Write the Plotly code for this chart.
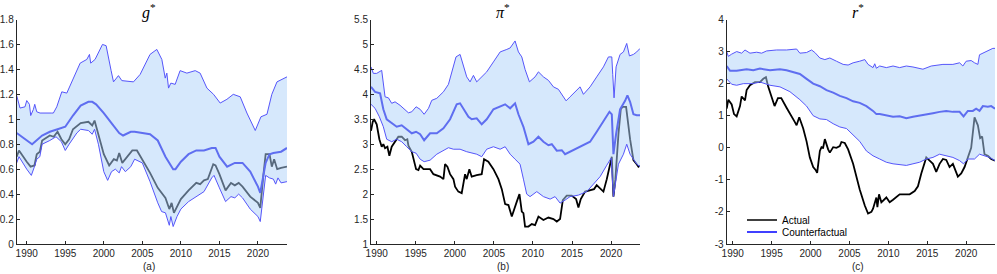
import plotly.graph_objects as go

# ---------------- data (year, value) ----------------
G_UPPER = [(1988.7, 1.19), (1989.13, 1.09), (1989.78, 1.10), (1990.0, 1.15), (1990.35, 1.12), (1990.52, 1.03),
           (1990.87, 1.08), (1991.04, 1.12), (1991.3, 1.06), (1991.73, 1.05), (1993.25, 1.05), (1993.46, 1.05),
           (1993.9, 1.10), (1994.55, 1.22), (1995.2, 1.21), (1995.84, 1.30), (1996.93, 1.45), (1997.8, 1.48),
           (1998.14, 1.52), (1998.3, 1.45), (1998.87, 1.48), (1999.83, 1.60), (2000.3, 1.59), (2000.95, 1.39),
           (2001.26, 1.30), (2001.9, 1.35), (2002.34, 1.31), (2003.85, 1.30), (2004.72, 1.36), (2006.0, 1.52),
           (2006.88, 1.56), (2007.53, 1.48), (2007.97, 1.33), (2008.18, 1.37), (2008.4, 1.25), (2008.7, 1.29),
           (2009.26, 1.28), (2009.9, 1.39), (2010.78, 1.37), (2011.86, 1.39), (2012.5, 1.37), (2013.38, 1.25),
           (2014.24, 1.20), (2015.1, 1.13), (2015.97, 1.16), (2016.8, 1.20), (2017.7, 1.18), (2018.57, 1.05),
           (2019.65, 0.91), (2020.39, 1.02), (2021.17, 1.04), (2021.8, 1.20), (2022.47, 1.30), (2023.77, 1.34)]
G_MEDIAN = [(1988.7, 0.89), (1990.0, 0.83), (1990.7, 0.80), (1992.0, 0.87), (1993.0, 0.90), (1994.0, 0.92),
            (1995.0, 0.94), (1996.0, 1.03), (1997.0, 1.11), (1998.0, 1.14), (1998.5, 1.14), (1999.0, 1.12),
            (2000.0, 1.05), (2001.0, 0.97), (2002.0, 0.89), (2002.5, 0.87), (2003.5, 0.90), (2004.0, 0.90),
            (2005.0, 0.89), (2006.0, 0.88), (2007.0, 0.83), (2008.0, 0.70), (2009.0, 0.60), (2009.3, 0.60),
            (2010.0, 0.66), (2011.0, 0.72), (2012.0, 0.75), (2013.0, 0.75), (2014.0, 0.77), (2014.5, 0.77),
            (2015.0, 0.70), (2016.0, 0.62), (2017.0, 0.65), (2018.0, 0.65), (2019.0, 0.58), (2020.0, 0.46),
            (2020.3, 0.41), (2021.0, 0.65), (2021.5, 0.72), (2022.0, 0.73), (2023.0, 0.74), (2023.77, 0.77)]
G_LOWER = [(1988.7, 0.65), (1989.0, 0.70), (1990.0, 0.60), (1990.6, 0.55), (1991.0, 0.62), (1991.3, 0.68),
           (1991.7, 0.70), (1992.0, 0.80), (1993.0, 0.83), (1993.8, 0.86), (1994.5, 0.82), (1995.0, 0.75),
           (1995.5, 0.80), (1996.5, 0.89), (1997.0, 0.92), (1998.0, 0.91), (1998.5, 0.88), (1998.8, 0.92),
           (1999.3, 0.80), (2000.0, 0.58), (2000.5, 0.51), (2001.0, 0.58), (2001.5, 0.60), (2002.0, 0.57),
           (2002.3, 0.62), (2002.8, 0.58), (2003.5, 0.62), (2004.0, 0.68), (2005.0, 0.65), (2006.0, 0.50),
           (2007.0, 0.33), (2007.5, 0.26), (2008.0, 0.25), (2008.5, 0.15), (2008.7, 0.22), (2009.0, 0.14),
           (2009.5, 0.22), (2010.0, 0.28), (2011.0, 0.34), (2012.0, 0.38), (2013.0, 0.42), (2014.0, 0.53),
           (2014.3, 0.55), (2015.0, 0.45), (2015.8, 0.34), (2016.5, 0.38), (2017.0, 0.37), (2017.5, 0.40),
           (2018.0, 0.37), (2019.0, 0.28), (2020.0, 0.22), (2020.3, 0.18), (2020.7, 0.40), (2021.0, 0.55),
           (2021.5, 0.53), (2022.0, 0.52), (2022.3, 0.48), (2022.6, 0.53), (2023.0, 0.49), (2023.77, 0.50)]
G_ACTUAL = [(1988.7, 0.70), (1989.0, 0.75), (1990.0, 0.66), (1990.5, 0.62), (1991.0, 0.63), (1991.3, 0.72),
            (1991.7, 0.74), (1992.0, 0.83), (1993.0, 0.87), (1993.5, 0.86), (1994.0, 0.90), (1994.5, 0.84),
            (1995.0, 0.80), (1995.5, 0.84), (1996.0, 0.92), (1997.0, 0.97), (1998.0, 0.98), (1998.5, 0.95),
            (1998.8, 0.99), (1999.3, 0.88), (2000.0, 0.72), (2000.7, 0.63), (2001.3, 0.68), (2001.7, 0.67),
            (2002.0, 0.73), (2002.4, 0.65), (2003.0, 0.70), (2003.7, 0.75), (2004.3, 0.75), (2005.0, 0.68),
            (2006.0, 0.57), (2007.0, 0.45), (2008.0, 0.37), (2008.5, 0.28), (2008.8, 0.33), (2009.1, 0.25),
            (2009.5, 0.30), (2010.0, 0.36), (2011.0, 0.43), (2012.0, 0.49), (2012.5, 0.48), (2013.0, 0.51),
            (2013.5, 0.52), (2014.2, 0.64), (2014.5, 0.63), (2015.0, 0.56), (2015.8, 0.43), (2016.5, 0.49),
            (2017.0, 0.47), (2017.5, 0.49), (2018.0, 0.46), (2019.0, 0.38), (2020.0, 0.33), (2020.3, 0.29),
            (2020.7, 0.55), (2021.0, 0.72), (2021.5, 0.72), (2021.8, 0.62), (2022.1, 0.68), (2022.5, 0.60),
            (2023.0, 0.61), (2023.77, 0.62)]

P_UPPER = [(1989.27, 4.55), (1989.57, 4.42), (1990.0, 4.42), (1990.43, 4.47), (1990.64, 4.48), (1991.07, 3.95),
           (1991.5, 3.93), (1991.92, 3.82), (1992.35, 3.85), (1992.99, 3.78), (1993.63, 3.70), (1994.06, 3.63),
           (1994.49, 3.65), (1995.04, 3.75), (1995.56, 3.70), (1996.07, 3.60), (1996.63, 3.72), (1997.05, 3.88),
           (1997.69, 3.92), (1998.54, 4.05), (1999.18, 4.20), (1999.6, 4.45), (2000.15, 4.75), (2000.67, 4.80),
           (2001.1, 4.55), (2001.52, 4.35), (2001.95, 4.25), (2002.38, 4.38), (2002.8, 4.25), (2003.44, 4.35),
           (2004.08, 4.45), (2004.94, 4.65), (2005.8, 4.85), (2006.65, 4.90), (2007.08, 4.93), (2007.71, 5.07),
           (2008.14, 4.85), (2008.57, 4.75), (2008.99, 4.50), (2009.55, 4.25), (2010.27, 4.35), (2010.7, 4.45),
           (2011.34, 4.35), (2011.98, 4.28), (2012.62, 4.15), (2013.26, 4.10), (2013.9, 3.95), (2014.24, 3.87),
           (2014.75, 3.95), (2015.39, 4.05), (2016.03, 4.15), (2016.46, 4.00), (2017.31, 4.15), (2018.16, 4.35),
           (2019.02, 4.55), (2019.66, 4.75), (2020.09, 4.75), (2020.21, 4.40), (2020.38, 3.93), (2020.64, 4.55),
           (2021.15, 4.80), (2021.58, 4.85), (2022.0, 5.02), (2022.35, 4.77), (2022.86, 4.80), (2023.28, 4.85),
           (2023.7, 4.92)]
P_MEDIAN = [(1989.27, 4.15), (1989.79, 4.05), (1990.43, 4.02), (1990.85, 3.70), (1991.28, 3.50), (1991.92, 3.42),
            (1992.56, 3.35), (1993.2, 3.38), (1993.84, 3.30), (1994.49, 3.22), (1995.04, 3.25), (1995.56, 3.20),
            (1996.07, 3.08), (1996.83, 3.22), (1997.69, 3.22), (1998.54, 3.32), (1999.39, 3.50), (1999.82, 3.65),
            (2000.24, 3.80), (2000.67, 3.82), (2001.1, 3.70), (2001.74, 3.55), (2002.16, 3.50), (2002.8, 3.52),
            (2003.44, 3.40), (2004.08, 3.50), (2004.94, 3.70), (2005.8, 3.75), (2006.44, 3.80), (2007.08, 3.72),
            (2007.71, 3.82), (2008.14, 3.60), (2008.78, 3.35), (2009.42, 3.00), (2010.06, 3.05), (2010.7, 3.15),
            (2011.34, 3.05), (2011.98, 2.98), (2012.41, 3.00), (2013.05, 2.87), (2013.69, 2.88), (2014.11, 2.80),
            (2014.75, 2.85), (2015.61, 2.92), (2016.46, 3.00), (2017.31, 3.05), (2018.16, 3.25), (2019.02, 3.45),
            (2019.79, 3.65), (2020.09, 3.60), (2020.3, 2.80), (2020.64, 3.20), (2021.15, 3.70), (2021.79, 3.87),
            (2022.09, 3.98), (2022.43, 3.85), (2022.86, 3.60), (2023.28, 3.58), (2023.7, 3.58)]
P_LOWER = [(1989.27, 3.80), (1989.79, 3.72), (1990.34, 3.55), (1990.85, 3.35), (1991.28, 3.10), (1991.92, 3.05),
           (1992.56, 3.10), (1993.2, 3.05), (1993.84, 2.95), (1994.49, 2.85), (1995.04, 2.82), (1995.56, 2.70),
           (1996.07, 2.65), (1996.83, 2.68), (1997.69, 2.80), (1998.54, 2.88), (1999.18, 2.93), (1999.82, 2.90),
           (2000.67, 2.90), (2001.52, 2.85), (2002.8, 2.80), (2003.44, 2.75), (2004.08, 2.90), (2004.94, 2.95),
           (2005.8, 2.90), (2006.44, 2.95), (2007.08, 2.80), (2007.71, 2.70), (2008.35, 2.60), (2008.78, 2.30),
           (2009.2, 2.00), (2009.63, 1.95), (2010.49, 2.05), (2011.34, 1.95), (2012.2, 1.90), (2012.83, 1.95),
           (2013.47, 1.82), (2014.11, 1.88), (2014.75, 1.95), (2015.82, 1.98), (2016.89, 2.05), (2017.74, 2.20),
           (2018.59, 2.35), (2019.45, 2.58), (2020.0, 2.72), (2020.3, 1.95), (2020.51, 2.20), (2020.94, 2.60),
           (2021.58, 2.80), (2022.0, 3.00), (2022.43, 2.80), (2022.86, 2.70), (2023.28, 2.60), (2023.7, 2.55)]
P_ACTUAL = [(1989.27, 3.27), (1989.49, 3.45), (1989.66, 3.50), (1990.0, 3.40), (1990.34, 3.10), (1990.64, 2.95),
            (1990.85, 3.00), (1991.07, 2.92), (1991.37, 2.95), (1991.62, 2.77), (1991.92, 2.95), (1992.35, 3.05),
            (1992.77, 3.15), (1993.2, 3.15), (1993.63, 3.08), (1993.92, 3.10), (1994.06, 2.97), (1994.49, 2.85),
            (1994.7, 2.70), (1995.04, 2.50), (1995.34, 2.48), (1995.56, 2.57), (1995.99, 2.50), (1996.83, 2.50),
            (1997.26, 2.40), (1998.11, 2.35), (1998.54, 2.30), (1998.75, 2.60), (1999.05, 2.55), (1999.39, 2.40),
            (1999.82, 2.30), (2000.03, 2.15), (2000.45, 2.05), (2000.88, 2.02), (2001.31, 2.40), (2001.52, 2.30),
            (2001.86, 2.50), (2002.16, 2.35), (2002.8, 2.38), (2003.44, 2.40), (2003.74, 2.70), (2004.29, 2.65),
            (2004.94, 2.50), (2005.58, 2.30), (2006.01, 2.10), (2006.44, 1.80), (2006.86, 1.78), (2007.29, 1.55),
            (2007.93, 1.85), (2008.27, 2.00), (2008.57, 1.65), (2008.78, 1.62), (2008.99, 1.35), (2009.42, 1.35),
            (2009.85, 1.40), (2010.27, 1.38), (2010.7, 1.55), (2011.34, 1.48), (2011.98, 1.53), (2012.62, 1.50),
            (2013.05, 1.45), (2013.47, 1.50), (2013.82, 1.88), (2014.32, 1.97), (2014.96, 1.97), (2015.52, 1.90),
            (2015.82, 1.73), (2016.12, 1.90), (2016.67, 2.05), (2017.31, 2.07), (2017.82, 2.10), (2018.16, 2.18),
            (2018.59, 2.12), (2019.02, 2.05), (2019.45, 2.30), (2019.87, 2.60), (2020.09, 2.75), (2020.3, 1.95),
            (2020.55, 2.30), (2020.94, 3.20), (2021.24, 3.70), (2021.49, 3.75), (2021.92, 3.75), (2022.43, 3.10),
            (2022.86, 2.68), (2023.28, 2.60), (2023.5, 2.55), (2023.7, 2.57)]

R_UPPER = [(1989.23, 3.00), (1989.44, 2.85), (1989.87, 2.92), (1990.51, 3.00), (1991.15, 2.95), (1991.58, 3.05),
           (1992.22, 2.95), (1993.08, 2.98), (1993.72, 2.95), (1994.36, 3.02), (1995.64, 3.05), (1996.92, 3.05),
           (1998.21, 3.08), (1998.63, 2.95), (1999.49, 2.97), (2000.13, 3.05), (2000.56, 2.97), (2001.2, 2.80),
           (2001.84, 2.75), (2002.48, 2.80), (2003.33, 2.70), (2004.19, 2.60), (2004.83, 2.58), (2005.47, 2.65),
           (2006.32, 2.70), (2006.97, 2.75), (2007.39, 2.60), (2008.03, 2.50), (2008.25, 2.62), (2008.46, 2.48),
           (2008.89, 2.55), (2009.74, 2.50), (2010.6, 2.55), (2011.45, 2.50), (2012.31, 2.55), (2013.16, 2.52),
           (2014.44, 2.45), (2015.51, 2.55), (2017.01, 2.60), (2018.29, 2.60), (2019.15, 2.65), (2019.57, 2.55),
           (2020.0, 2.70), (2020.64, 2.72), (2021.07, 2.65), (2021.5, 2.60), (2021.71, 2.90), (2022.56, 3.00),
           (2023.42, 3.10), (2023.7, 3.10)]
R_MEDIAN = [(1989.23, 2.55), (1989.66, 2.40), (1990.51, 2.40), (1991.79, 2.45), (1992.65, 2.42), (1993.5, 2.47),
            (1994.79, 2.42), (1996.07, 2.45), (1996.92, 2.42), (1997.78, 2.35), (1998.63, 2.30), (1999.49, 2.15),
            (2000.34, 2.00), (2001.2, 1.92), (2002.05, 1.80), (2002.91, 1.72), (2003.76, 1.62), (2004.62, 1.55),
            (2005.47, 1.45), (2006.32, 1.40), (2007.18, 1.30), (2008.03, 1.15), (2008.46, 1.05), (2008.89, 1.05),
            (2009.74, 1.00), (2010.6, 0.97), (2011.45, 0.98), (2012.31, 0.92), (2013.16, 0.97), (2014.02, 1.00),
            (2014.87, 1.05), (2015.73, 1.08), (2016.58, 1.12), (2017.44, 1.15), (2018.29, 1.12), (2019.15, 1.12),
            (2019.66, 0.98), (2020.21, 1.15), (2020.85, 1.15), (2021.28, 1.22), (2021.71, 1.15), (2022.14, 1.30),
            (2022.78, 1.28), (2023.21, 1.30), (2023.7, 1.22)]
R_LOWER = [(1989.23, 2.15), (1989.87, 1.98), (1990.51, 1.95), (1991.37, 2.00), (1992.65, 2.00), (1993.5, 2.05),
           (1994.79, 1.95), (1996.07, 1.90), (1997.35, 1.75), (1998.63, 1.50), (1999.49, 1.30), (2000.34, 1.00),
           (2001.2, 0.90), (2002.05, 0.88), (2002.91, 0.75), (2003.76, 0.65), (2004.62, 0.60), (2005.47, 0.40),
           (2006.32, 0.20), (2007.18, -0.10), (2008.03, -0.25), (2008.89, -0.35), (2009.74, -0.45), (2010.6, -0.50),
           (2011.45, -0.52), (2012.31, -0.55), (2013.16, -0.50), (2014.02, -0.45), (2014.87, -0.35), (2015.73, -0.30),
           (2016.58, -0.20), (2017.44, -0.25), (2018.29, -0.30), (2019.15, -0.40), (2019.66, -0.50), (2020.21, -0.35),
           (2021.07, -0.35), (2021.71, -0.20), (2022.35, -0.25), (2022.99, -0.30), (2023.7, -0.40)]
R_ACTUAL = [(1989.23, 1.22), (1989.44, 1.50), (1989.87, 1.35), (1990.17, 1.05), (1990.51, 0.98), (1990.94, 1.30),
            (1991.15, 1.60), (1991.58, 1.48), (1991.79, 1.80), (1992.22, 1.95), (1992.86, 2.05), (1993.5, 2.05),
            (1993.93, 2.15), (1994.27, 2.20), (1994.57, 1.90), (1994.96, 1.60), (1995.38, 1.30), (1995.81, 1.55),
            (1996.24, 1.55), (1996.92, 1.25), (1997.56, 1.00), (1997.99, 0.80), (1998.21, 0.70), (1998.55, 0.95),
            (1999.06, 0.60), (1999.49, 0.20), (1999.91, -0.30), (2000.34, -0.60), (2000.68, -0.70), (2000.85, -0.78),
            (2001.2, -0.10), (2001.41, 0.02), (2001.62, 0.00), (2001.84, 0.27), (2002.26, -0.05), (2002.48, -0.15),
            (2002.91, 0.02), (2003.33, 0.00), (2003.76, 0.05), (2003.97, 0.18), (2004.4, 0.15), (2004.83, -0.05),
            (2005.47, -0.50), (2006.32, -1.30), (2006.97, -1.80), (2007.39, -2.05), (2007.82, -2.00), (2008.03, -1.90),
            (2008.46, -1.55), (2008.59, -1.85), (2008.8, -1.45), (2009.1, -1.70), (2009.74, -1.55), (2010.17, -1.70),
            (2010.6, -1.62), (2011.45, -1.45), (2012.09, -1.45), (2012.74, -1.45), (2013.38, -1.35), (2013.8, -1.20),
            (2014.23, -0.80), (2014.87, -0.30), (2015.3, -0.40), (2015.73, -0.50), (2016.15, -0.75), (2016.58, -0.50),
            (2017.01, -0.35), (2017.44, -0.38), (2017.86, -0.60), (2018.29, -0.50), (2018.93, -0.90), (2019.36, -0.80),
            (2019.79, -0.60), (2020.21, -0.30), (2020.64, 0.00), (2021.07, 0.95), (2021.5, 0.70), (2021.79, 0.30),
            (2022.05, 0.35), (2022.35, -0.20), (2022.78, -0.25), (2023.21, -0.35), (2023.7, -0.40)]

X_TICKS = [1990, 1995, 2000, 2005, 2010, 2015, 2020]
G_TICKS = [0, 0.2, 0.4, 0.6, 0.8, 1, 1.2, 1.4, 1.6, 1.8]
P_TICKS = [1, 1.5, 2, 2.5, 3, 3.5, 4, 4.5, 5, 5.5]
R_TICKS = [-3, -2, -1, 0, 1, 2, 3, 4]

TITLES = ["<i>g</i><sup>*</sup>", "<i>π</i><sup>*</sup>", "<i>r</i><sup>*</sup>"]
CAPTIONS = ["(a)", "(b)", "(c)"]
LEGEND_LABELS = ["Actual", "Counterfactual"]

# ---------------- styling ----------------
W, H = 997, 274
FILL = "rgba(173,209,249,0.5)"
BOUND = "rgb(85,85,250)"
MED = "rgb(95,110,240)"
AXC = "#262626"
FONT = "Liberation Sans, Arial, sans-serif"
FS = 10

panels = [
    dict(up=G_UPPER, med=G_MEDIAN, lo=G_LOWER, act=G_ACTUAL, xr=[1988.7, 2023.77], yr=[0, 1.8], yt=G_TICKS,
         px=(16.7, 287)),
    dict(up=P_UPPER, med=P_MEDIAN, lo=P_LOWER, act=P_ACTUAL, xr=[1989.27, 2023.7], yr=[1, 5.5], yt=P_TICKS,
         px=(371, 640)),
    dict(up=R_UPPER, med=R_MEDIAN, lo=R_LOWER, act=R_ACTUAL, xr=[1989.23, 2023.7], yr=[-3, 4], yt=R_TICKS,
         px=(726.7, 995)),
]

Y_TOP, Y_BOT = 19.5, 244.0
ydom = [1 - Y_BOT / H, 1 - Y_TOP / H]


def xs(s):
    return [p[0] for p in s]


def ys(s):
    return [p[1] for p in s]


fig = go.Figure()
layout = dict(width=W, height=H, autosize=False, margin=dict(l=0, r=0, t=0, b=0, autoexpand=False),
              paper_bgcolor="white", plot_bgcolor="white", showlegend=True, hovermode=False,
              font=dict(family=FONT, size=FS, color=AXC))
annotations = []

for i, p in enumerate(panels):
    sfx = "" if i == 0 else str(i + 1)
    xa, ya = "x" + sfx, "y" + sfx
    # actual (under the band)
    fig.add_trace(go.Scatter(x=xs(p["act"]), y=ys(p["act"]), xaxis=xa, yaxis=ya, mode="lines",
                             line=dict(color="black", width=1.8), showlegend=False, hoverinfo="skip"))
    # band
    bx = xs(p["up"]) + xs(p["lo"])[::-1]
    by = ys(p["up"]) + ys(p["lo"])[::-1]
    fig.add_trace(go.Scatter(x=bx, y=by, xaxis=xa, yaxis=ya, mode="lines", fill="toself",
                             fillcolor=FILL, line=dict(width=0), showlegend=False, hoverinfo="skip"))
    for key, col, wd in (("up", BOUND, 1.0), ("lo", BOUND, 1.0), ("med", MED, 2.0)):
        fig.add_trace(go.Scatter(x=xs(p[key]), y=ys(p[key]), xaxis=xa, yaxis=ya, mode="lines",
                                 line=dict(color=col, width=wd), showlegend=False, hoverinfo="skip"))
    x0, x1 = p["px"]
    common = dict(showgrid=False, zeroline=False, showline=True, linecolor=AXC, linewidth=1,
                  ticks="inside", ticklen=3, tickcolor=AXC, tickwidth=1, automargin=False, fixedrange=True,
                  tickfont=dict(family=FONT, size=FS, color=AXC))
    layout["xaxis" + sfx] = dict(domain=[x0 / W, x1 / W], range=p["xr"], anchor=ya, tickvals=X_TICKS,
                                 ticktext=[str(t) for t in X_TICKS], **common)
    layout["yaxis" + sfx] = dict(domain=ydom, range=p["yr"], anchor=xa, tickvals=p["yt"],
                                 ticktext=[f"{t:g}" for t in p["yt"]], **common)
    cx = (x0 + x1) / 2 / W
    annotations.append(dict(text=TITLES[i], x=cx - 3 / W, y=1 - 11 / H, xref="paper", yref="paper",
                            showarrow=False, xanchor="center", yanchor="middle",
                            font=dict(family="Liberation Serif, Times New Roman, serif", size=16, color="black")))
    annotations.append(dict(text=CAPTIONS[i], x=cx - 3 / W, y=1 - 266 / H, xref="paper", yref="paper",
                            showarrow=False, xanchor="center", yanchor="middle",
                            font=dict(family=FONT, size=FS, color=AXC)))

# legend entries (panel c)
fig.add_trace(go.Scatter(x=[None], y=[None], xaxis="x3", yaxis="y3", mode="lines", name=LEGEND_LABELS[0],
                         line=dict(color="black", width=1.5), legend="legend"))
fig.add_trace(go.Scatter(x=[None], y=[None], xaxis="x3", yaxis="y3", mode="lines", name=LEGEND_LABELS[1],
                         line=dict(color="blue", width=1.5), legend="legend2"))
leg = dict(xanchor="left", yanchor="middle", bgcolor="rgba(0,0,0,0)", borderwidth=0,
           font=dict(family=FONT, size=FS, color="black"), itemwidth=30)
layout["legend"] = dict(x=742 / W, y=1 - 220 / H, **leg)
layout["legend2"] = dict(x=742 / W, y=1 - 232 / H, **leg)
layout["annotations"] = annotations

fig.update_layout(**layout)
fig.write_html("out.html", config={"displayModeBar": False, "staticPlot": True},
               post_script="document.body.style.margin='0px';")
